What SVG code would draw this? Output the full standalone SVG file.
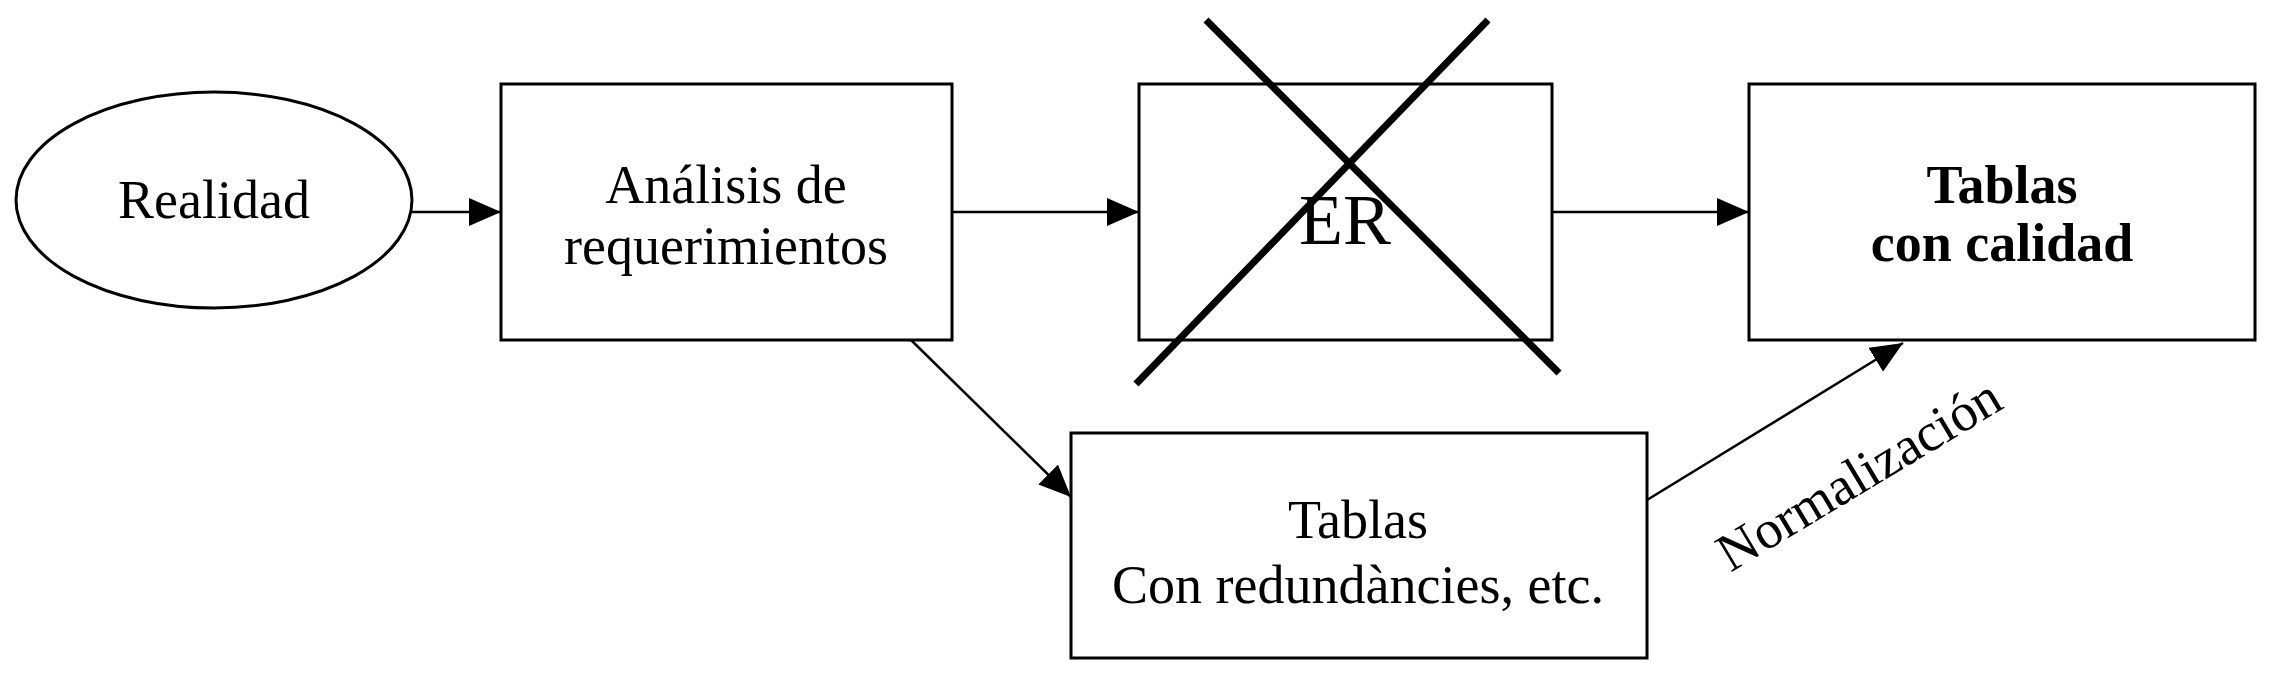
<svg xmlns="http://www.w3.org/2000/svg" width="2278" height="682" viewBox="0 0 2278 682">
<style>
.s{fill:#fff;stroke:#000;stroke-width:3}
.c{stroke:#000;stroke-width:2.5;fill:none}
.t{font-family:"Liberation Serif",serif;font-size:54px;text-anchor:middle;fill:#000}
.b{font-weight:bold}
</style>
<defs>
<marker id="A" viewBox="0 0 10 10" refX="10" refY="5" markerWidth="32" markerHeight="28" markerUnits="userSpaceOnUse" orient="auto" preserveAspectRatio="none"><path d="M0,0L10,5L0,10z" fill="#000"/></marker></defs>
<rect width="2278" height="682" fill="#fff"/>
<g id="realidad"><ellipse class="s" cx="214" cy="200" rx="198" ry="108"/><text class="t" x="214" y="218">Realidad</text></g>
<g id="analisis"><rect class="s" x="501" y="84" width="451" height="256"/><text class="t" x="726" y="203">Análisis de</text><text class="t" x="726" y="264">requerimientos</text></g>
<g id="er"><rect class="s" x="1139" y="84" width="413" height="256"/><text class="t" x="1345" y="244" style="font-size:72px">ER</text>
<line x1="1206" y1="20" x2="1559" y2="373" stroke="#000" stroke-width="7"/><line x1="1488" y1="20" x2="1136" y2="384" stroke="#000" stroke-width="7"/></g>
<g id="calidad"><rect class="s" x="1749" y="84" width="506" height="256"/><text class="t b" x="2002" y="203">Tablas</text><text class="t b" x="2002" y="261">con calidad</text></g>
<g id="redund"><rect class="s" x="1071" y="433" width="576" height="225"/><text class="t" x="1358" y="538">Tablas</text><text class="t" x="1358" y="603">Con redundàncies, etc.</text></g>
<g id="connectors">
<line class="c" x1="412" y1="212" x2="501" y2="212" marker-end="url(#A)"/>
<line class="c" x1="952" y1="212" x2="1139" y2="212" marker-end="url(#A)"/>
<line class="c" x1="1552" y1="212" x2="1749" y2="212" marker-end="url(#A)"/>
<line class="c" x1="911" y1="340" x2="1071" y2="497" marker-end="url(#A)"/>
<line class="c" x1="1647" y1="500" x2="1903" y2="343" marker-end="url(#A)"/>
<text class="t" transform="translate(1868,490) rotate(-31)">Normalización</text>
</g>
</svg>
